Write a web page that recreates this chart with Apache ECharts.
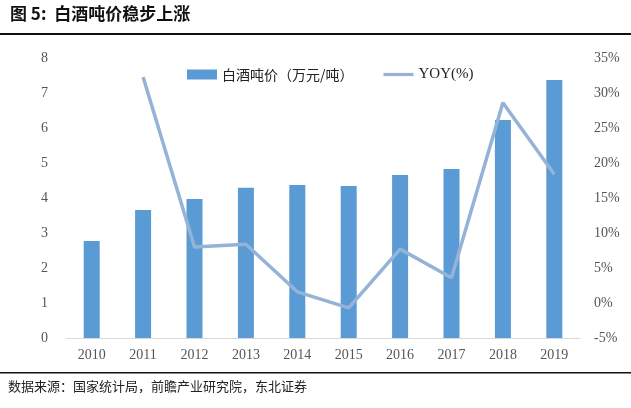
<!DOCTYPE html>
<html>
<head>
<meta charset="utf-8">
<script src="https://cdn.jsdelivr.net/npm/echarts@6/dist/echarts.min.js"></script>
<style>
    html, body { margin: 0; padding: 0; background: #fff; }
    #chart { width: 631px; height: 408px; }
</style>
</head>
<body>
<div id="chart"></div>
<script>
    // 年份
    var years = ['2010', '2011', '2012', '2013', '2014', '2015', '2016', '2017', '2018', '2019'];
    // 白酒吨价（万元/吨）
    var price = [2.77, 3.66, 3.97, 4.29, 4.37, 4.34, 4.66, 4.83, 6.23, 7.37];
    // 同比（%），2010 无数据
    var yoy = [null, 32.3, 8.0, 8.4, 1.6, -0.7, 7.7, 3.6, 28.6, 18.4];

    var serif = '"Liberation Serif", "Times New Roman", serif';
    var cjk = '"Noto Sans CJK SC", sans-serif';

    var chart = echarts.init(document.getElementById('chart'));

    var option = {
        backgroundColor: '#fff',
        animation: false,
        legend: {
            top: 62,
            left: 182,
            itemGap: 30,
            itemWidth: 30,
            itemHeight: 10,
            textStyle: { fontSize: 15, color: '#222', fontFamily: serif },
            data: [
                { name: '白酒吨价（万元/吨）', icon: 'rect', textStyle: { fontFamily: cjk, fontSize: 14 } },
                { name: 'YOY(%)', icon: 'path://M0,0 L28,0 L28,3 L0,3 Z' }
            ]
        },
        grid: { left: 66, right: 51, top: 58, bottom: 70 },
        xAxis: {
            type: 'category',
            data: years,
            axisLine: { lineStyle: { color: '#d9d9d9', width: 1 } },
            axisTick: { show: false },
            axisLabel: { color: '#555', fontSize: 14, fontFamily: serif, margin: 10 }
        },
        yAxis: [{
            type: 'value',
            min: 0,
            max: 8,
            interval: 1,
            splitLine: { show: false },
            axisLine: { show: false },
            axisLabel: { color: '#555', fontSize: 14, fontFamily: serif, margin: 18 }
        }, {
            type: 'value',
            min: -5,
            max: 35,
            interval: 5,
            splitLine: { show: false },
            axisLine: { show: false },
            axisLabel: { color: '#555', fontSize: 14, fontFamily: serif, margin: 14, formatter: '{value}%' }
        }],
        series: [{
            name: '白酒吨价（万元/吨）',
            type: 'bar',
            barWidth: 16,
            itemStyle: { color: '#5b9bd5' },
            data: price
        }, {
            name: 'YOY(%)',
            type: 'line',
            yAxisIndex: 1,
            symbol: 'none',
            connectNulls: false,
            lineStyle: { color: '#95b3d7', width: 3.5 },
            itemStyle: { color: '#95b3d7' },
            data: yoy
        }],
        graphic: [{
            type: 'text',
            left: 10,
            top: 5,
            style: { text: '图 5:  白酒吨价稳步上涨', font: 'bold 17px ' + cjk, fill: '#111' }
        }, {
            type: 'rect',
            shape: { x: 0, y: 33, width: 631, height: 2 },
            style: { fill: '#111' }
        }, {
            type: 'rect',
            shape: { x: 0, y: 372, width: 631, height: 1.5 },
            style: { fill: '#111' }
        }, {
            type: 'text',
            left: 8,
            top: 380,
            style: { text: '数据来源：国家统计局，前瞻产业研究院，东北证券', font: '13px ' + cjk, fill: '#222' }
        }]
    };

    chart.setOption(option);
</script>
</body>
</html>
